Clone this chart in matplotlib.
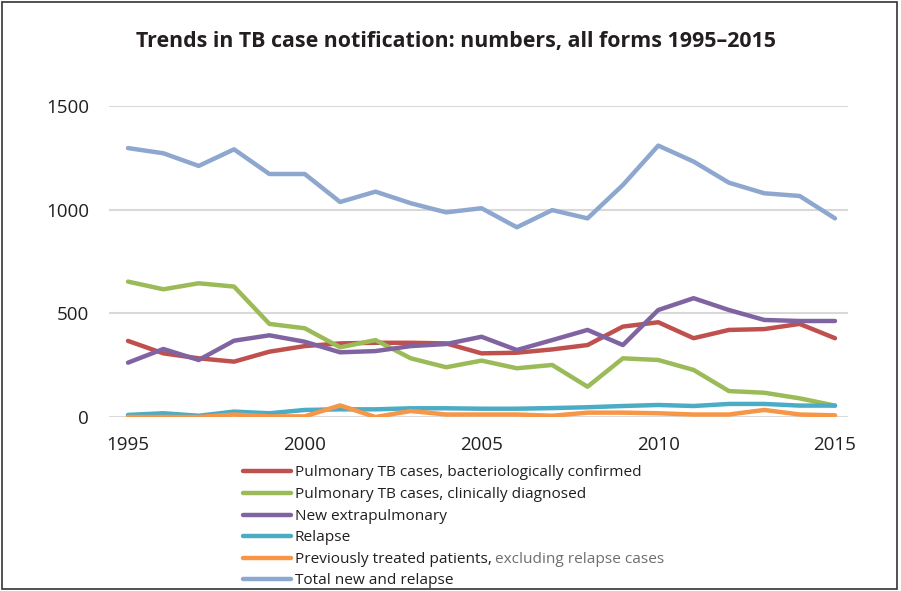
import matplotlib
matplotlib.use("Agg")
import matplotlib.pyplot as plt
from matplotlib.lines import Line2D
from matplotlib.patches import Rectangle

years = list(range(1995, 2016))
bact_confirmed = [367, 307, 283, 267, 315, 342, 355, 358, 358, 355, 307, 310, 326, 347, 436, 457, 380, 420, 424, 449, 380]
clin_diagnosed = [653, 616, 645, 629, 449, 428, 336, 371, 283, 240, 272, 235, 251, 146, 283, 275, 227, 125, 117, 90, 55]
new_extrapulm = [262, 328, 275, 368, 394, 363, 312, 318, 342, 352, 387, 323, 371, 420, 347, 516, 573, 516, 468, 463, 463]
relapse = [10, 18, 6, 26, 18, 34, 37, 37, 42, 42, 40, 40, 43, 47, 53, 58, 53, 63, 63, 55, 55]
prev_treated = [0, 0, 0, 12, 3, 3, 56, 0, 29, 12, 12, 12, 6, 21, 21, 18, 12, 12, 34, 12, 8]
total = [1297, 1272, 1211, 1291, 1172, 1172, 1037, 1087, 1031, 987, 1007, 915, 998, 958, 1119, 1309, 1232, 1130, 1079, 1066, 958]

series = [
    ("Pulmonary TB cases, bacteriologically confirmed", bact_confirmed, "#C0504D"),
    ("Pulmonary TB cases, clinically diagnosed", clin_diagnosed, "#9BBB59"),
    ("New extrapulmonary", new_extrapulm, "#8064A2"),
    ("Relapse", relapse, "#4BACC6"),
    ("Previously treated patients,", prev_treated, "#F79646"),
    ("Total new and relapse", total, "#8EA7CF"),
]
extra_label = "excluding relapse cases"
title = "Trends in TB case notification: numbers, all forms 1995\u20132015"
yticks = [0, 500, 1000, 1500]
xticks = [1995, 2000, 2005, 2010, 2015]

W, H = 901, 591
fig = plt.figure(figsize=(W / 100, H / 100), dpi=100)
plt.rcParams['font.family'] = ['Open Sans', 'DejaVu Sans']
txt = "#231F20"

def fx(px):
    return px / W

def fy(py):
    return 1 - py / H

ax = fig.add_axes([fx(109), fy(417), fx(848) - fx(109), fy(106) - fy(417)])
order = [5, 0, 1, 2, 3, 4]
for i in order:
    lab, vals, col = series[i]
    ax.plot(years, vals, color=col, lw=3.2, solid_capstyle='round', solid_joinstyle='round', zorder=3)

ax.set_xlim(1995 - 19 / 35.35, 2015 + 13 / 35.35)
ax.set_ylim(0, 1500)
ax.set_yticks(yticks)
ax.set_xticks(xticks)
ax.set_yticklabels([str(v) for v in yticks])
ax.set_xticklabels([str(v) for v in xticks])
for s in ax.spines.values():
    s.set_visible(False)
ax.grid(axis='y', color='#D9D9D9', lw=1.5, zorder=0)
ax.tick_params(axis='both', length=0, labelsize=13.5, colors=txt)
ax.tick_params(axis='y', pad=14.5)
ax.tick_params(axis='x', pad=14)

fig.text(fx(456), fy(42), title, ha='center', va='center', fontsize=15.4,
         fontweight='bold', color=txt)

row_y = [471, 493, 515, 536, 558, 579]
for (lab, vals, col), py in zip(series, row_y):
    fig.add_artist(Line2D([fx(243), fx(291)], [fy(py), fy(py)], color=col, lw=3.2,
                          solid_capstyle='round'))
    t = fig.text(fx(295), fy(py + 1.5), lab, ha='left', va='center', fontsize=11.1, color=txt)
    if lab.startswith("Previously"):
        prev_text = t

fig.canvas.draw()
bb = prev_text.get_window_extent()
fig.text((bb.x1 + 3) / W, fy(558 + 1.5), extra_label, ha='left', va='center', fontsize=11.1,
         color='#6D6E71')

fig.add_artist(Rectangle((fx(2), fy(589)), fx(897) - fx(2), fy(2) - fy(589),
                         fill=False, ec='#333333', lw=1.2, transform=fig.transFigure))

fig.savefig("out.png", dpi=100)
